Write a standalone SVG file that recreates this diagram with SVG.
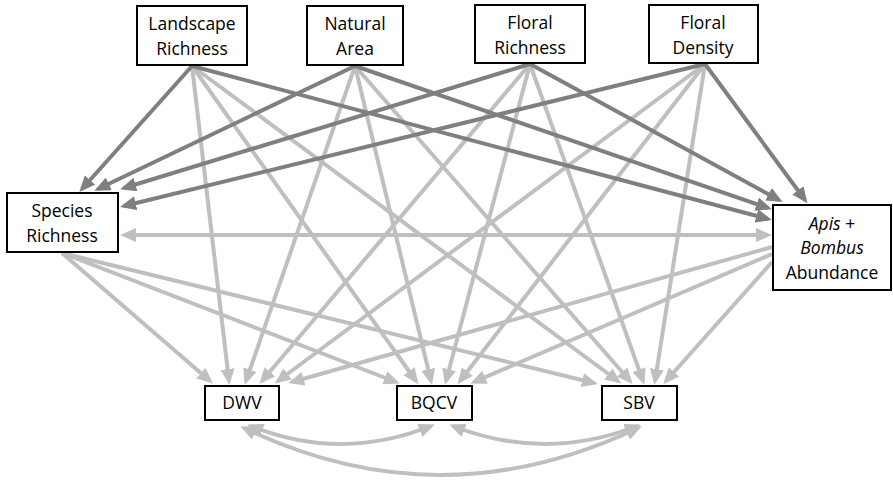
<svg xmlns="http://www.w3.org/2000/svg" width="893" height="484" viewBox="0 0 893 484">
<defs>
<style>
.box{fill:#fff;stroke:#000;stroke-width:2}
.t{font-family:"Open Sans","Liberation Sans",sans-serif;font-size:17.5px;fill:#000;text-anchor:middle}
.dk{stroke:#7f7f7f;stroke-width:4;fill:none}
.lt{stroke:#bfbfbf;stroke-width:4;fill:none}
</style>
<marker id="ad" markerUnits="userSpaceOnUse" markerWidth="17" markerHeight="14" refX="12" refY="7" orient="auto-start-reverse"><path d="M0,0 L16,7 L0,14 z" fill="#7f7f7f"/></marker>
<marker id="al" markerUnits="userSpaceOnUse" markerWidth="17" markerHeight="14" refX="12" refY="7" orient="auto-start-reverse"><path d="M0,0 L16,7 L0,14 z" fill="#bfbfbf"/></marker>
</defs>
<g id="connectors">
<g class="lt" marker-end="url(#al)">
<line x1="192" y1="66" x2="229" y2="381"/>
<line x1="192" y1="66" x2="416" y2="381"/>
<line x1="192" y1="66" x2="618" y2="381"/>
<line x1="355" y1="66" x2="246" y2="381"/>
<line x1="355" y1="66" x2="431" y2="381"/>
<line x1="355" y1="66" x2="630" y2="381"/>
<line x1="530" y1="64" x2="262" y2="381"/>
<line x1="530" y1="64" x2="446" y2="381"/>
<line x1="530" y1="64" x2="643" y2="381"/>
<line x1="705" y1="64" x2="278" y2="381"/>
<line x1="705" y1="64" x2="460" y2="381"/>
<line x1="705" y1="64" x2="655" y2="381"/>
<line x1="62" y1="253" x2="210" y2="381"/>
<line x1="62" y1="253" x2="396" y2="382"/>
<line x1="62" y1="253" x2="594" y2="383"/>
<line x1="772" y1="247" x2="292" y2="382"/>
<line x1="772" y1="254" x2="474" y2="382"/>
<line x1="772" y1="262" x2="666" y2="381"/>
<line x1="124" y1="235" x2="768" y2="235" marker-start="url(#al)"/>
<path d="M251,426 Q340,462 431,426" marker-start="url(#al)"/>
<path d="M453,426 Q545,462 637,426" marker-start="url(#al)"/>
<path d="M244,428 Q440,522 638,428" marker-start="url(#al)"/>
</g>
<g class="dk" marker-end="url(#ad)">
<line x1="192" y1="66" x2="82" y2="189"/>
<line x1="355" y1="66" x2="98" y2="189"/>
<line x1="530" y1="64" x2="124" y2="188"/>
<line x1="705" y1="64" x2="124" y2="206"/>
<line x1="192" y1="66" x2="768" y2="219"/>
<line x1="355" y1="66" x2="768" y2="208"/>
<line x1="530" y1="64" x2="779" y2="200"/>
<line x1="705" y1="64" x2="805" y2="200"/>
</g>
</g>
<g id="landscape-richness"><rect class="box" x="137" y="6" width="110" height="59"/><text class="t" x="192" y="30">Landscape</text><text class="t" x="192" y="55">Richness</text></g>
<g id="natural-area"><rect class="box" x="307" y="6" width="96" height="59"/><text class="t" x="355" y="30">Natural</text><text class="t" x="355" y="55">Area</text></g>
<g id="floral-richness"><rect class="box" x="475" y="5" width="110" height="58"/><text class="t" x="530" y="29">Floral</text><text class="t" x="530" y="54">Richness</text></g>
<g id="floral-density"><rect class="box" x="649" y="5" width="109" height="58"/><text class="t" x="703" y="29">Floral</text><text class="t" x="703" y="54">Density</text></g>
<g id="species-richness"><rect class="box" x="7" y="193" width="111" height="59"/><text class="t" x="62" y="217">Species</text><text class="t" x="62" y="242">Richness</text></g>
<g id="apis-bombus"><rect class="box" x="773" y="205" width="118" height="85"/><text class="t" x="832" y="230"><tspan font-style="italic">Apis</tspan> +</text><text class="t" x="832" y="254" font-style="italic">Bombus</text><text class="t" x="832" y="279">Abundance</text></g>
<g id="dwv"><rect class="box" x="205" y="386" width="74" height="34"/><text class="t" x="242" y="409">DWV</text></g>
<g id="bqcv"><rect class="box" x="397" y="386" width="75" height="34"/><text class="t" x="434" y="409">BQCV</text></g>
<g id="sbv"><rect class="box" x="602" y="386" width="75" height="34"/><text class="t" x="639" y="409">SBV</text></g>
</svg>
